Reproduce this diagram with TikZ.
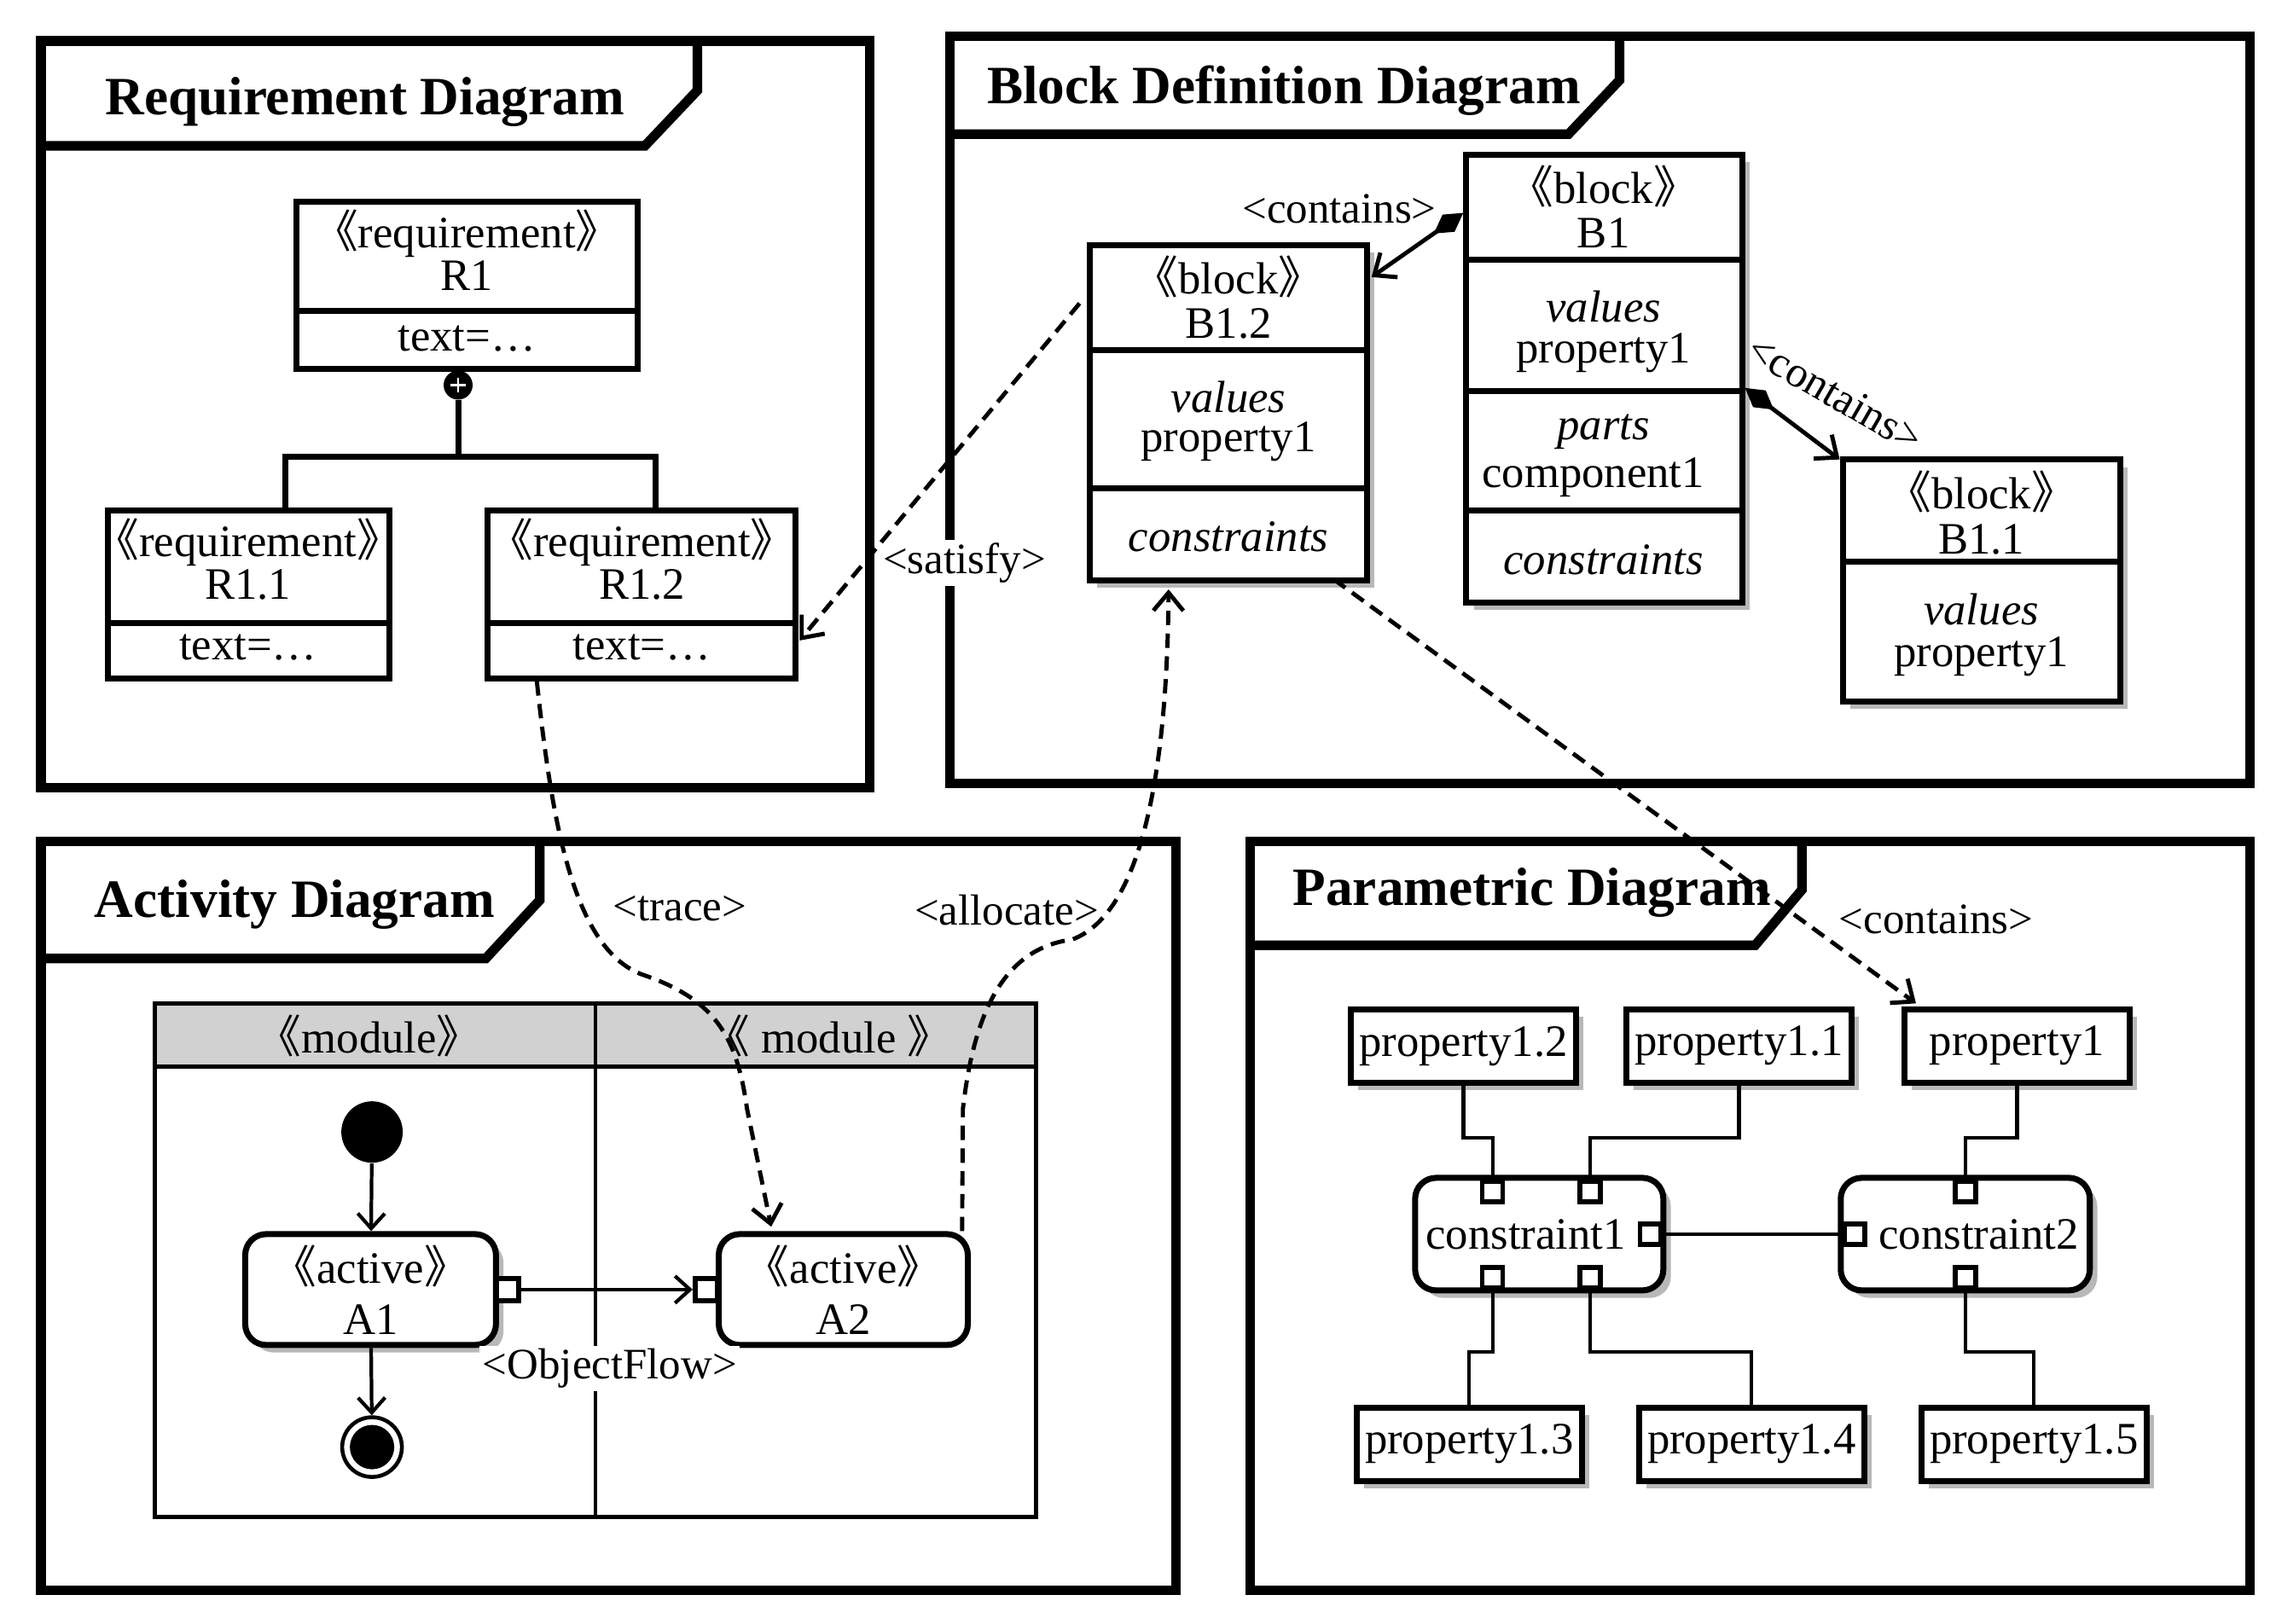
\documentclass[tikz,border=0pt]{standalone}
\usepackage{fontspec}
\setmainfont{Liberation Serif}
\newfontfamily\cjk[RawFeature=+halt]{Noto Sans CJK SC}
\usetikzlibrary{positioning,fit,calc,arrows.meta,shadows}
\newcommand\lgu{{\cjk 《}}
\newcommand\rgu{{\cjk 》}}

\tikzset{
  frame/.style={draw, line width=3.2pt, inner sep=0pt},
  frameline/.style={line width=3.2pt},
  title/.style={font=\fontsize{18}{20}\selectfont\bfseries, inner sep=0pt},
  txt/.style={font=\fontsize{15}{17}\selectfont, inner sep=0pt},
  itxt/.style={txt, font=\fontsize{15}{17}\selectfont\itshape},
  lbl/.style={font=\fontsize{14.5}{16}\selectfont, inner sep=1pt},
  box/.style={draw, line width=2pt, inner sep=0pt, fill=white},
  boxline/.style={line width=2pt},
  shade/.style={drop shadow={shadow xshift=2.5pt, shadow yshift=-2.5pt, fill=black, opacity=0.28}},
  prop/.style={box, shade, txt, minimum width=2.64cm, minimum height=0.86cm},
  action/.style={box, rounded corners=7pt, txt, align=center, minimum height=1.3cm},
  port/.style={draw, fill=white, line width=1.6pt, inner sep=0pt, minimum size=0.24cm},
  wire/.style={line width=1.2pt},
  flow/.style={line width=1.2pt, -{Straight Barb[length=5pt,width=9pt,line width=1.2pt]}},
  trace/.style={line width=1.4pt, dash pattern=on 4.8pt off 2.8pt,
    -{Straight Barb[length=6pt,width=10pt,line width=1.4pt]}},
  comp/.style={line width=1.4pt,
    {Diamond[length=12pt,width=7pt]}-{Straight Barb[length=6pt,width=10pt,line width=1.4pt]}},
}

\begin{document}
\begin{tikzpicture}[x=0.0171cm, y=-0.0171cm]
\useasboundingbox (0,0) rectangle (1560,1113);

% Requirement Diagram
\node[frame, fit={(28,28) (596,540)}] (reqframe) {};
\draw[frameline] (28,100) -- (442,100) -- (478,62) -- (478,28);
\node[title] (reqtitle) at (250,70) {Requirement Diagram};

\node[box, fit={(203,138) (437,253)}] (r1) {};
\draw[boxline] (203,213) -- (437,213);
\node[txt] at (320,160) {\lgu requirement\rgu};
\node[txt] at (320,189) {R1};
\node[txt] at (320,232) {text=…};

\node[box, fit={(74,350) (267,465)}] (r11) {};
\draw[boxline] (74,427) -- (267,427);
\node[txt] at (170,372) {\lgu requirement\rgu};
\node[txt] at (170,401) {R1.1};
\node[txt] at (170,444) {text=…};

\node[box, fit={(334,350) (545,465)}] (r12) {};
\draw[boxline] (334,427) -- (545,427);
\node[txt] at (440,372) {\lgu requirement\rgu};
\node[txt] at (440,401) {R1.2};
\node[txt] at (440,444) {text=…};

\node[circle, fill, inner sep=0pt, minimum size=0.34cm] (r1plus) at (314,264) {};
\draw[white, line width=0.7pt] ($(r1plus)+(-5,0)$) -- ($(r1plus)+(5,0)$)
  ($(r1plus)+(0,-5)$) -- ($(r1plus)+(0,5)$);
\coordinate (r1fork) at (314,313);
\draw[boxline] (r1plus.south) -- (r1fork);
\draw[boxline] ($(r11.north)+(25,0)$) |- (r1fork) -| ($(r12.north)+(10,0)$);

% Block Definition Diagram
\node[frame, fit={(651,25) (1542,537)}] (bddframe) {};
\draw[frameline] (651,92) -- (1075,92) -- (1110,55) -- (1110,25);
\node[title] (bddtitle) at (880,62) {Block Definition Diagram};

\node[box, shade, fit={(747,168) (937,398)}] (b12) {};
\draw[boxline] (747,240) -- (937,240) (747,335) -- (937,335);
\node[txt] at (842,190) {\lgu block\rgu};
\node[txt] at (842,222) {B1.2};
\node[itxt] at (842,272) {values};
\node[txt] at (842,303) {property1};
\node[itxt] at (842,368) {constraints};

\node[box, shade, fit={(1005,106) (1194,413)}] (b1) {};
\draw[boxline] (1005,178) -- (1194,178) (1005,268) -- (1194,268) (1005,350) -- (1194,350);
\node[txt] at (1099,128) {\lgu block\rgu};
\node[txt] at (1099,160) {B1};
\node[itxt] at (1099,210) {values};
\node[txt] at (1099,242) {property1};
\node[itxt] at (1099,296) {parts};
\node[txt] at (1092,327) {component1};
\node[itxt] at (1099,384) {constraints};

\node[box, shade, fit={(1263,315) (1453,481)}] (b11) {};
\draw[boxline] (1263,385) -- (1453,385);
\node[txt] at (1358,337) {\lgu block\rgu};
\node[txt] at (1358,370) {B1.1};
\node[itxt] at (1358,418) {values};
\node[txt] at (1358,450) {property1};

\draw[comp] ($(b1.north west)+(0,42)$) -- ($(b12.north east)+(1,24)$);
\node[lbl] at (918,143) {<contains>};
\draw[comp] ($(b1.north east)+(0,162)$) -- ($(b11.north west)+(0,2)$);
\node[lbl, rotate=-30] at (1258,270) {<contains>};

% Activity Diagram
\node[frame, fit={(28,577) (806,1090)}] (actframe) {};
\draw[frameline] (28,657) -- (333,657) -- (370,617) -- (370,577);
\node[title] (acttitle) at (202,620) {Activity Diagram};

\fill[black!18] (106,688) rectangle (710,731);
\node[draw, line width=1.3pt, inner sep=0pt, fit={(106,688) (710,1040)}] (lanes) {};
\draw[line width=1.3pt] (106,731) -- (710,731) (408,688) -- (408,1040);
\node[txt] at (253,710) {\lgu module\rgu};
\node[txt] at (568,710) {\lgu\ module \rgu};

\node[circle, fill, inner sep=0pt, minimum size=0.72cm] (init) at (255,776) {};
\node[action, shade, minimum width=2.94cm] (a1) at (254,884) {\lgu active\rgu\\A1};
\node[action, minimum width=2.92cm] (a2) at (578,884) {\lgu active\rgu\\A2};
\node[port, minimum size=0.26cm] (a1pin) at (348,884) {};
\node[port, minimum size=0.26cm] (a2pin) at (484,884) {};
\node[circle, draw, line width=1.3pt, inner sep=0pt, minimum size=0.7cm] (fin) at (255,992) {};
\node[circle, fill, inner sep=0pt, minimum size=0.52cm] (finin) at (fin) {};

\draw[flow] (init) -- (a1);
\draw[flow] (a1) -- (fin);
\draw[flow] (a1pin) -- (a2pin);
\node[lbl, fill=white] at (418,938) {<ObjectFlow>};

% Parametric Diagram
\node[frame, fit={(857,577) (1542,1090)}] (parframe) {};
\draw[frameline] (857,648) -- (1203,648) -- (1235,610) -- (1235,577);
\node[title] (partitle) at (1050,612) {Parametric Diagram};

\node[prop] (p12) at (1003,717) {property1.2};
\node[prop, right=0.52cm of p12] (p11) {property1.1};
\node[prop, right=0.55cm of p11] (p1) {property1};
\node[prop] (p13) at (1007,990) {property1.3};
\node[prop, right=0.6cm of p13] (p14) {property1.4};
\node[prop, right=0.6cm of p14] (p15) {property1.5};

\node[action, shade, minimum width=2.91cm, minimum height=1.32cm] (c1) at (1055,846) {constraint1\hspace{0.6em}};
\node[action, shade, minimum width=2.92cm, minimum height=1.32cm] (c2) at (1347,846) {\hspace{0.6em}constraint2};
\node[port] (c1t1) at (1023,817) {};
\node[port] (c1t2) at (1090,817) {};
\node[port] (c1b1) at (1023,876) {};
\node[port] (c1b2) at (1090,876) {};
\node[port] (c1r) at (1131,846) {};
\node[port] (c2t) at (1347,817) {};
\node[port] (c2b) at (1347,876) {};
\node[port] (c2l) at (1271,846) {};

\draw[wire] (p12.south) -- ++(0,36) -| (c1t1.north);
\draw[wire] (p11.south) -- ++(0,36) -| (c1t2.north);
\draw[wire] (p1.south) -- ++(0,36) -| (c2t.north);
\draw[wire] (c1b1.south) -- ++(0,42) -| (p13.north);
\draw[wire] (c1b2.south) -- ++(0,42) -| (p14.north);
\draw[wire] (c2b.south) -- ++(0,42) -| (p15.north);
\draw[wire] (c1r.east) -- (c2l.west);

% cross-diagram relations
\node[lbl, fill=white] at (661,386) {<satisfy>};
\draw[trace] ($(b12.north west)+(-5,42)$) -- ($(r12.south east)+(1,-28)$);
\draw[trace] ($(r12.south west)+(36,0)$) .. controls (378,560) and (392,650) .. (440,668)
  .. controls (490,685) and (505,710) .. (512,760) -- ($(a2.north west)+(38,-3)$);
\node[lbl] at (466,623) {<trace>};
\draw[trace] ($(a2.north east)+(-6,0)$) -- (660,760) .. controls (668,690) and (690,650) .. (735,644)
  .. controls (785,625) and (800,520) .. ($(b12.south west)+(56,4)$);
\node[lbl] at (690,624) {<allocate>};
\draw[trace] ($(b12.south east)+(-25,-3)$) -- ($(p1.north west)+(10,-2)$);
\node[lbl] at (1327,630) {<contains>};
\end{tikzpicture}
\end{document}
